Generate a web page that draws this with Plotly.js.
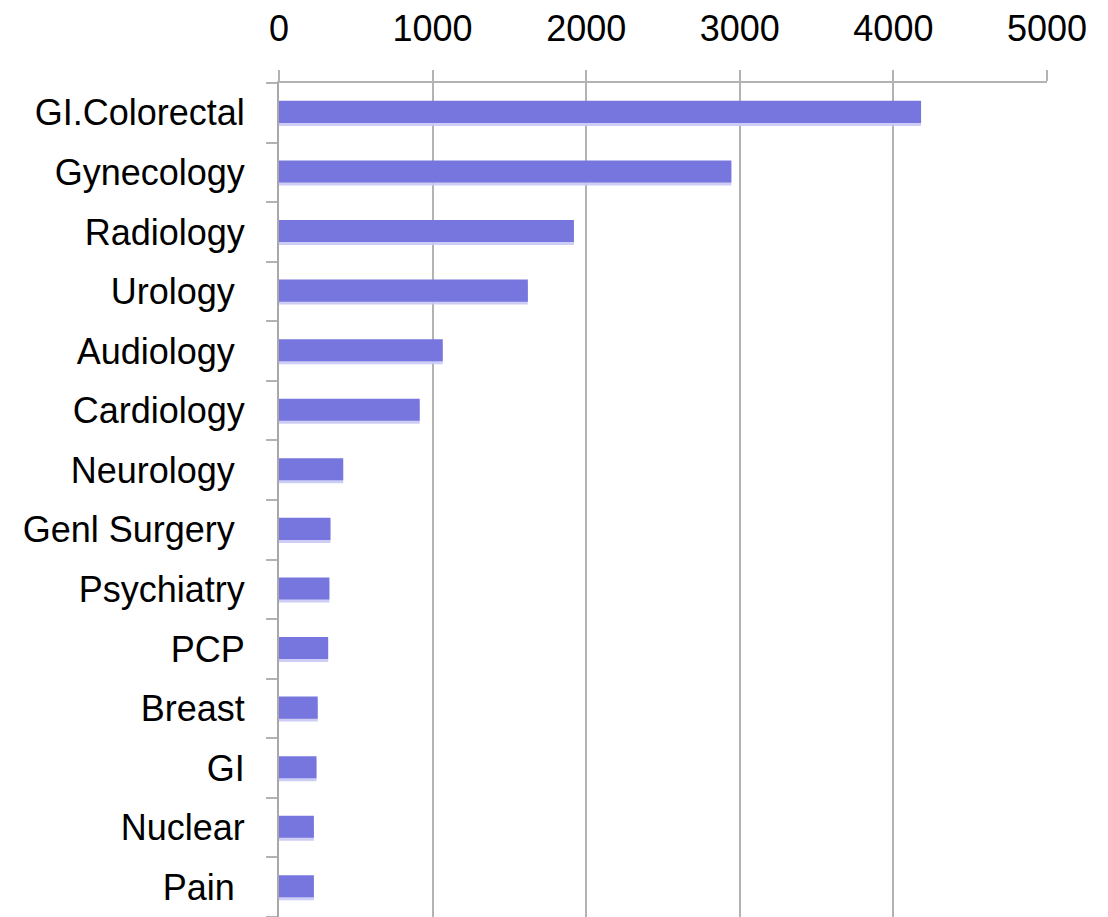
<!DOCTYPE html>
<html>
<head>
<meta charset="utf-8">
<script src="https://cdn.plot.ly/plotly-3.0.1.min.js"></script>
<style>html,body{margin:0;padding:0;background:#fff;}#chart{width:1108px;height:917px;}</style>
</head>
<body>
<div id="chart"></div>
<script>
const categories = ["GI.Colorectal", "Gynecology", "Radiology", "Urology", "Audiology", "Cardiology", "Neurology", "Genl Surgery", "Psychiatry", "PCP", "Breast", "GI", "Nuclear", "Pain"];
const tickLabels = ["GI.Colorectal", "Gynecology", "Radiology", "Urology\u00a0", "Audiology\u00a0", "Cardiology", "Neurology\u00a0", "Genl Surgery\u00a0", "Psychiatry", "PCP", "Breast", "GI", "Nuclear", "Pain\u00a0"];
const values = [4180, 2945, 1920, 1620, 1066, 916, 418, 335, 328, 320, 252, 244, 227, 227];
const xTicks = [0, 1000, 2000, 3000, 4000, 5000];

const shadow = {
  type: 'bar', orientation: 'h', x: values, y: categories,
  width: 0.37, offset: -0.15,
  marker: {color: 'rgba(200,200,245,0.9)', line: {width: 0}},
  hoverinfo: 'skip', showlegend: false
};
const main = {
  type: 'bar', orientation: 'h', x: values, y: categories,
  width: 0.37, offset: -0.2,
  marker: {color: 'rgb(118,118,222)', line: {width: 0}},
  showlegend: false
};

const layout = {
  width: 1108, height: 917,
  margin: {l: 279, r: 61, t: 83, b: 0},
  paper_bgcolor: '#fff', plot_bgcolor: '#fff',
  barmode: 'overlay',
  font: {family: 'Liberation Sans, Arial, sans-serif', color: '#000', size: 36},
  xaxis: {
    side: 'top', range: [0, 5000], tickvals: xTicks, ticktext: xTicks.map(String),
    showgrid: true, gridcolor: '#b3b3b3', gridwidth: 2,
    ticks: 'outside', ticklen: 11, tickwidth: 2, tickcolor: '#b3b3b3',
    showline: true, linecolor: '#b3b3b3', linewidth: 2,
    zeroline: false, ticklabelstandoff: 15,
    tickfont: {size: 36, color: '#000'}
  },
  yaxis: {
    type: 'category', autorange: false, range: [13.5, -0.5],
    tickvals: categories, ticktext: tickLabels,
    tickson: 'boundaries', ticks: 'outside', ticklen: 11, tickwidth: 2, tickcolor: '#b3b3b3',
    showline: true, linecolor: '#a8a8a8', linewidth: 2,
    showgrid: false, zeroline: false, ticklabelstandoff: 25,
    tickfont: {size: 36, color: '#000'}
  }
};

Plotly.newPlot('chart', [shadow, main], layout, {displayModeBar: false, staticPlot: true});
</script>
</body>
</html>
